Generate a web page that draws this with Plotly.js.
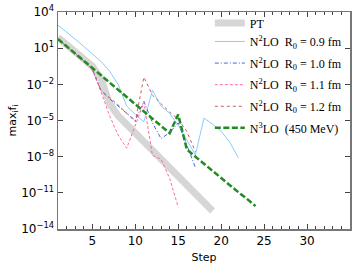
<!DOCTYPE html>
<html><head><meta charset="utf-8">
<script src="https://cdn.plot.ly/plotly-3.0.1.min.js"></script>
<style>html,body{margin:0;padding:0;background:#fff}</style>
</head><body><div id="c" style="width:357px;height:264px"></div>
<script>
// log10(max_i f_i), per step
const stepsPT = [1,2,3,4,5,6,7,8,9,10,11,12,13,14,15,16,17,18,19];
const logPT = [1.9,1.3,0.7,0.1,-0.5,-1.5,-3.6,-4.6,-5.3,-6.0,-6.7,-7.4,-8.1,-8.9,-9.6,-10.4,-11.1,-11.8,-12.5];

const steps09 = [1,2,3,4,5,6,7,8,9,10,11,12,13,14,15,16,17,18,19,20,21,22];
const log09 = [2.9,2.35,1.75,1.15,0.55,-0.1,-0.9,-2.0,-3.8,-4.5,-5.1,-2.5,-3.8,-4.4,-5.4,-6.6,-7.85,-4.8,-5.3,-5.9,-6.8,-8.1];

const steps10 = [1,2,3,4,5,6,7,8,9,10,11,12,13,14,15,16,17];
const log10v = [1.76,1.15,0.55,-0.05,-0.75,-2.5,-3.2,-3.8,-4.4,-5.0,-3.4,-5.2,-6.5,-6.0,-5.2,-7.0,-8.9];

const steps11 = [1,2,3,4,5,6,7,8,9,10,11,12,13,14,15];
const log11 = [1.76,1.15,0.55,-0.05,-0.8,-2.6,-4.6,-6.2,-7.3,-5.4,-3.5,-7.9,-8.2,-9.8,-12.2];

const steps12 = [1,2,3,4,5,6,7,8,9,10,11,12,13,14,15,16,17];
const log12 = [1.76,1.15,0.55,-0.05,-0.75,-2.5,-3.1,-3.7,-4.4,-5.1,-1.4,-2.9,-3.6,-4.3,-4.9,-5.9,-7.6];

const stepsN3 = [1,2,3,4,5,6,7,8,9,10,11,12,13,14,15,16,17,18,19,20,21,22,23,24];
const logN3 = [1.76,1.15,0.55,-0.05,-0.65,-1.25,-1.85,-2.45,-3.05,-3.65,-4.25,-4.85,-5.45,-6.05,-4.5,-7.4,-8.0,-8.6,-9.2,-9.8,-10.35,-10.95,-11.5,-12.1];

const yTickVals = [1e4, 1e1, 1e-2, 1e-5, 1e-8, 1e-11, 1e-14];
const yTickText = ['10<sup>4</sup>', '10<sup>1</sup>', '10<sup>\u22122</sup>', '10<sup>\u22125</sup>',
                   '10<sup>\u22128</sup>', '10<sup>\u221211</sup>', '10<sup>\u221214</sup>'];
const xTickVals = [5, 10, 15, 20, 25, 30];

const names = ["PT",
  "N<sup>2</sup>LO  R<sub>0</sub> = 0.9 fm",
  "N<sup>2</sup>LO  R<sub>0</sub> = 1.0 fm",
  "N<sup>2</sup>LO  R<sub>0</sub> = 1.1 fm",
  "N<sup>2</sup>LO  R<sub>0</sub> = 1.2 fm",
  "N<sup>3</sup>LO  (450 MeV)"];

const pw = a => a.map(v => Math.pow(10, v));

const traces = [
  {x: stepsPT, y: pw(logPT), name: names[0], legend: 'legend', line: {color: '#d6d6d6', width: 7}},
  {x: steps09, y: pw(log09), name: names[1], legend: 'legend2', line: {color: '#87cefa', width: 1}},
  {x: steps10, y: pw(log10v), name: names[2], legend: 'legend2', line: {color: '#4169e1', width: 1, dash: '4px,2px,1px,2px'}},
  {x: steps11, y: pw(log11), name: names[3], legend: 'legend2', line: {color: '#ff69b4', width: 1, dash: '3px,2px'}},
  {x: steps12, y: pw(log12), name: names[4], legend: 'legend2', line: {color: '#cd5c5c', width: 1, dash: 'dot'}},
  {x: stepsN3, y: pw(logN3), name: names[5], legend: 'legend2', line: {color: '#228b22', width: 2.5, dash: '6px,2.5px'}}
].map((t, i) => Object.assign({type: 'scatter', mode: 'lines', legendgroup: 'g' + i}, t));

const legFont = {family: 'Liberation Serif', size: 12, color: '#000'};
const layout = {
  width: 357, height: 264,
  margin: {l: 58, r: 7, t: 12, b: 35},
  paper_bgcolor: '#fff', plot_bgcolor: '#fff',
  font: {family: 'DejaVu Sans', size: 12, color: '#000'},
  showlegend: true,
  legend: {x: 0.52, y: 1.016, xanchor: 'left', yanchor: 'top', bgcolor: 'rgba(0,0,0,0)', font: legFont},
  legend2: {x: 0.52, y: 0.931, xanchor: 'left', yanchor: 'top', bgcolor: 'rgba(0,0,0,0)',
            traceorder: 'grouped', tracegroupgap: 2.6, font: legFont},
  xaxis: {range: [1, 35], tickvals: xTickVals, ticks: 'inside', ticklen: 5, tickwidth: 1,
          tickcolor: '#444', showline: true, linecolor: '#777', linewidth: 1.5, mirror: 'ticks',
          showgrid: false, zeroline: false,
          minor: {dtick: 1, ticks: 'inside', ticklen: 3, tickcolor: '#444', showgrid: false},
          title: {text: 'Step', font: {size: 11}, standoff: 6}, tickfont: {size: 12}},
  yaxis: {type: 'log', range: [-14, 4], tickvals: yTickVals, ticktext: yTickText, ticks: 'inside', ticklen: 5,
          tickcolor: '#444', showline: true, linecolor: '#777', linewidth: 1.5, mirror: 'ticks',
          showgrid: false, zeroline: false,
          title: {text: 'max<sub>i</sub>f<sub>i</sub>', font: {size: 11}, standoff: 2}, tickfont: {size: 12}}
};

Plotly.newPlot('c', traces, layout, {displayModeBar: false, staticPlot: true});
</script></body></html>
